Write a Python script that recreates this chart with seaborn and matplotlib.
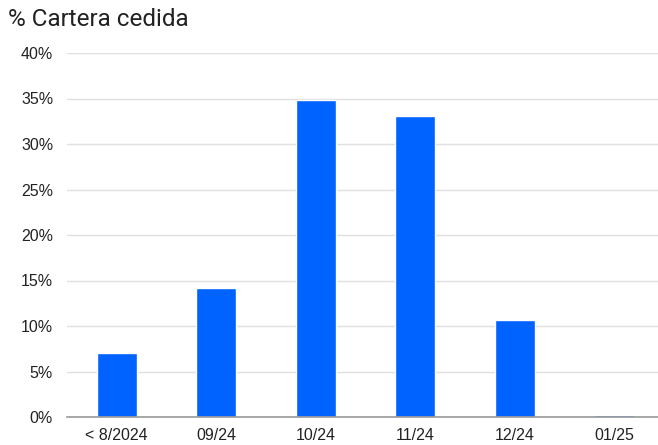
import matplotlib
matplotlib.use("Agg")
import matplotlib.pyplot as plt
import seaborn as sns
import pandas as pd
from matplotlib.ticker import FuncFormatter

categories = ["< 8/2024", "09/24", "10/24", "11/24", "12/24", "01/25"]
values = [7.0, 14.2, 34.8, 33.1, 10.7, 0.2]
yticks = [0, 5, 10, 15, 20, 25, 30, 35, 40]

sns.set_theme(style="white")
plt.rcParams['font.family'] = ['Liberation Sans', 'DejaVu Sans']

df = pd.DataFrame({"cat": categories, "val": values})

fig = plt.figure(figsize=(6.58, 4.45), dpi=100)
ax = fig.add_axes([67/658, 1 - 417/445, 597/658, (417-53)/445])
sns.barplot(data=df, x="cat", y="val", color="#0062FF", saturation=1, width=0.4, ax=ax, zorder=3)

ax.set_ylim(0, 40)
ax.set_yticks(yticks)
ax.yaxis.set_major_formatter(FuncFormatter(lambda v, p: f"{int(v)}%"))
ax.grid(axis="y", color="#e0e0e0", linewidth=1, zorder=0)
ax.set_xlabel("")
ax.set_ylabel("")
for s in ["top", "right", "left"]:
    ax.spines[s].set_visible(False)
ax.spines["bottom"].set_color("#999999")
ax.spines["bottom"].set_linewidth(1.2)
ax.spines["bottom"].set_zorder(4)
ax.tick_params(axis="both", length=0, labelsize=11.5, colors="#222222")
ax.tick_params(axis="x", pad=8)
ax.tick_params(axis="y", pad=10)
ax.set_xlim(-0.5, 5.5)

fig.text(8/658, 1 - 20/445, "% Cartera cedida", fontsize=17.5, family=["Roboto", "DejaVu Sans"],
         color="#222222", va="center", ha="left")

fig.savefig("out.png", dpi=100)
